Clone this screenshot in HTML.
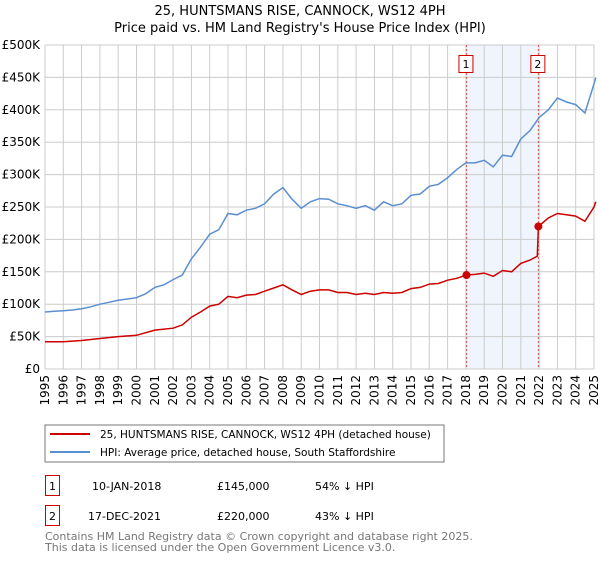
<!DOCTYPE html>
<html><head><meta charset="utf-8"><style>
body{margin:0;background:#fff;font-family:"Liberation Sans",sans-serif;}
svg text{font-family:"DejaVu Sans","Liberation Sans",sans-serif;}
</style></head><body>
<svg id="c" width="600" height="560" xmlns="http://www.w3.org/2000/svg">
<text x="300" y="15" text-anchor="middle" font-size="13">25, HUNTSMANS RISE, CANNOCK, WS12 4PH</text>
<text x="300" y="32" text-anchor="middle" font-size="13">Price paid vs. HM Land Registry's House Price Index (HPI)</text>
<g id="grid"></g><g id="series"></g><g id="axes"></g>
<rect x="45" y="425" width="399" height="37" fill="#fff" stroke="#777"/>
<line x1="50" y1="434" x2="90" y2="434" stroke="#cc0000" stroke-width="2"/>
<text x="100" y="438" font-size="10.5">25, HUNTSMANS RISE, CANNOCK, WS12 4PH (detached house)</text>
<line x1="50" y1="452" x2="90" y2="452" stroke="#5b8fd0" stroke-width="2"/>
<text x="100" y="456" font-size="10.5">HPI: Average price, detached house, South Staffordshire</text>
<g>
<rect x="45.5" y="475.5" width="14" height="20" fill="none" stroke="#cc0000"/>
<text x="52.5" y="490" font-size="11" text-anchor="middle">1</text>
<text x="92" y="490" font-size="11">10-JAN-2018</text>
<text x="217" y="490" font-size="11">£145,000</text>
<text x="315" y="490" font-size="11">54% ↓ HPI</text></g>
<g>
<rect x="45.5" y="505.5" width="14" height="20" fill="none" stroke="#cc0000"/>
<text x="52.5" y="520" font-size="11" text-anchor="middle">2</text>
<text x="88" y="520" font-size="11">17-DEC-2021</text>
<text x="217" y="520" font-size="11">£220,000</text>
<text x="315" y="520" font-size="11">43% ↓ HPI</text></g>
<text x="45" y="540" font-size="11" fill="#777">Contains HM Land Registry data © Crown copyright and database right 2025.</text>
<text x="45" y="551" font-size="11" fill="#777">This data is licensed under the Open Government Licence v3.0.</text>
</svg>
<script>
const yearTicks=[1995,1996,1997,1998,1999,2000,2001,2002,2003,2004,2005,2006,2007,2008,2009,2010,2011,2012,2013,2014,2015,2016,2017,2018,2019,2020,2021,2022,2023,2024,2025];
const valueTicks=[0,50,100,150,200,250,300,350,400,450,500];
const valueLabels=["£0","£50K","£100K","£150K","£200K","£250K","£300K","£350K","£400K","£450K","£500K"];
const hpiDates=[1995,1995.5,1996,1996.5,1997,1997.5,1998,1998.5,1999,1999.5,2000,2000.5,2001,2001.5,2002,2002.5,2003,2003.5,2004,2004.5,2005,2005.5,2006,2006.5,2007,2007.5,2008,2008.5,2009,2009.5,2010,2010.5,2011,2011.5,2012,2012.5,2013,2013.5,2014,2014.5,2015,2015.5,2016,2016.5,2017,2017.5,2018,2018.5,2019,2019.5,2020,2020.5,2021,2021.5,2022,2022.5,2023,2023.5,2024,2024.5,2025,2025.1];
const hpiValues=[88,89,90,91,93,96,100,103,106,108,110,116,126,130,138,145,170,188,208,215,240,238,245,248,255,270,280,262,248,258,263,262,255,252,248,252,245,258,252,255,268,270,282,285,295,308,318,318,322,312,330,328,355,368,388,400,418,412,408,395,440,450];
const priceDates=[1995,1996,1997,1998,1999,2000,2001,2002,2002.5,2003,2003.5,2004,2004.5,2005,2005.5,2006,2006.5,2007,2007.5,2008,2008.5,2009,2009.5,2010,2010.5,2011,2011.5,2012,2012.5,2013,2013.5,2014,2014.5,2015,2015.5,2016,2016.5,2017,2017.5,2018.03,2018.5,2019,2019.5,2020,2020.5,2021,2021.5,2021.9,2021.96,2022.5,2023,2023.5,2024,2024.5,2025,2025.1];
const priceValues=[42,42,44,47,50,52,60,63,68,80,88,97,100,112,110,114,115,120,125,130,122,115,120,122,122,118,118,115,117,115,118,117,118,124,126,131,132,137,140,145,146,148,143,152,150,163,168,174,220,233,240,238,236,228,250,258];
const saleDates=[2018.03,2021.96];
const saleValues=[145,220];
const saleLabels=["1","2"];
const NS="http://www.w3.org/2000/svg";
const L=45,R=594,T=45,B=369;
const xs=d=>L+(d-1995)/30*(R-L);
const ys=v=>B-v/500*(B-T);
function mk(tag,attrs,parent){const e=document.createElementNS(NS,tag);for(const k in attrs)e.setAttribute(k,attrs[k]);parent.appendChild(e);return e;}
const grid=document.getElementById('grid'),series=document.getElementById('series'),axes=document.getElementById('axes');
const shade=mk('rect',{x:xs(saleDates[0]),y:T,width:xs(saleDates[1])-xs(saleDates[0]),height:B-T,fill:'#f0f4fc'},grid);


yearTicks.forEach(y=>{
 const l=mk('line',{x1:xs(y),x2:xs(y),y1:T,y2:B,stroke:'#ccc'},grid);
 
 
 const t=mk('text',{x:0,y:0,'font-size':12,transform:`translate(${xs(y)+4},${B+6}) rotate(-90)`,'text-anchor':'end'},axes);
 t.textContent=y;
 
 
});
valueTicks.forEach((v,i)=>{
 const l=mk('line',{x1:L,x2:R,y1:ys(v),y2:ys(v),stroke:'#ccc'},grid);
 
 
 const t=mk('text',{x:40,y:ys(v)+4,'font-size':12,'text-anchor':'end'},axes);
 t.textContent=valueLabels[i];
 
 
});
saleDates.forEach((d,i)=>{
 const l=mk('line',{x1:xs(d),x2:xs(d),y1:T,y2:B,stroke:'#e05050','stroke-dasharray':'2,2'},grid);
 
 
 const r=mk('rect',{x:xs(d)-7.5,y:55.5,width:14,height:17,fill:'#fff',stroke:'#cc0000'},axes);
 
 
 const t=mk('text',{x:xs(d)-0.5,y:68,'font-size':11,'text-anchor':'middle'},axes);
 t.textContent=saleLabels[i];
 
 
});
function pts(ds,vs){return ds.map((d,i)=>xs(d).toFixed(1)+','+ys(vs[i]).toFixed(1)).join(' ');}
const hp=mk('polyline',{points:pts(hpiDates,hpiValues),fill:'none',stroke:'#5b8fd0','stroke-width':1.5},series);


const pp=mk('polyline',{points:pts(priceDates,priceValues),fill:'none',stroke:'#cc0000','stroke-width':1.5},series);


saleDates.forEach((d,i)=>{
 const c=mk('circle',{cx:xs(d),cy:ys(saleValues[i]),r:4,fill:'#cc0000'},series);
 
 
});
</script>
</body></html>
